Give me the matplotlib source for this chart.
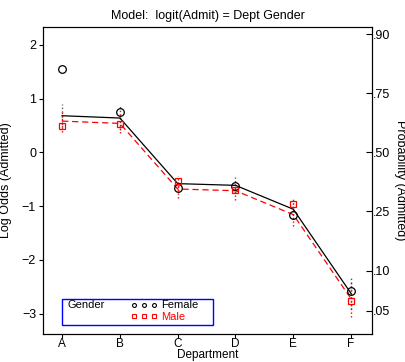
import numpy as np
import matplotlib.pyplot as plt
from matplotlib.patches import Rectangle

plt.rcParams['font.family'] = ['Liberation Sans', 'DejaVu Sans']

depts = ['A', 'B', 'C', 'D', 'E', 'F']
# observed log odds
obs_female = [1.544, 0.754, -0.660, -0.622, -1.157, -2.581]
obs_male = [0.492, 0.534, -0.536, -0.704, -0.957, -2.770]
# fitted log odds, model Dept + Gender
fit_female = [0.682, 0.639, -0.581, -0.613, -1.057, -2.624]
fit_male = [0.582, 0.539, -0.681, -0.713, -1.157, -2.724]
# half-width of the error bars
se_female = [0.21, 0.22, 0.14, 0.15, 0.19, 0.28]
se_male = [0.21, 0.18, 0.17, 0.18, 0.21, 0.33]
prob_ticks = [0.05, 0.10, 0.25, 0.50, 0.75, 0.90]
prob_labels = ['.05', '.10', '.25', '.50', '.75', '.90']
yticks = [-3, -2, -1, 0, 1, 2]

x = np.arange(len(depts))
fs = 9

fig = plt.figure(figsize=(4.06, 3.62), dpi=100)
ax = fig.add_axes([0.106, 0.0785, 0.810, 0.8466])

# error bars
ax.vlines(x, np.array(fit_female) - se_female, np.array(fit_female) + se_female,
          colors='#555555', linestyles=':', linewidth=1.0)
ax.vlines(x, np.array(fit_male) - se_male, np.array(fit_male) + se_male,
          colors='red', linestyles=':', linewidth=1.0)

# fitted lines
ax.plot(x, fit_female, color='black', linewidth=0.9)
ax.plot(x, fit_male, color='red', linewidth=0.9, linestyle=(0, (5, 3)))

# observed points
ax.plot(x, obs_female, linestyle='none', marker='o', markersize=5.5,
        markerfacecolor='none', markeredgecolor='black', markeredgewidth=0.9)
ax.plot(x, obs_male, linestyle='none', marker='s', markersize=3.8,
        markerfacecolor='none', markeredgecolor='red', markeredgewidth=0.9)

ax.set_xlim(-0.33, 5.36)
ax.set_ylim(-3.37, 2.33)
ax.set_xticks(x)
ax.set_xticklabels(depts)
ax.set_yticks(yticks)
ax.tick_params(direction='out', length=3, width=0.8, labelsize=fs, pad=2)
ax.tick_params(axis='x', labelsize=8.5, pad=0.5)
ax.set_xlabel('Department', fontsize=8.5, labelpad=-1)
ax.set_ylabel('Log Odds (Admitted)', fontsize=fs, labelpad=7)
ax.set_title('Model:  logit(Admit) = Dept Gender', fontsize=fs, pad=6)

ax2 = ax.twinx()
ax2.set_ylim(ax.get_ylim())
ax2.set_yticks([np.log(p / (1 - p)) for p in prob_ticks])
ax2.set_yticklabels(prob_labels)
ax2.tick_params(direction='in', length=4, width=0.8, labelsize=fs, pad=1)
ax2.set_ylabel('Probability (Admitted)', fontsize=fs, rotation=270, labelpad=11)

# legend box
lfs = 8
ax.add_patch(Rectangle((0.058, 0.029), 0.459, 0.085, transform=ax.transAxes,
                       fill=False, edgecolor='blue', linewidth=1.0))
ax.text(0.075, 0.094, 'Gender', transform=ax.transAxes, fontsize=lfs,
        va='center', ha='left')
ax.plot([0.278, 0.306, 0.336], [0.094] * 3, transform=ax.transAxes,
        linestyle='none', marker='o', markersize=2.8, markerfacecolor='none',
        markeredgecolor='black', markeredgewidth=0.8)
ax.plot([0.278, 0.306, 0.336], [0.056] * 3, transform=ax.transAxes,
        linestyle='none', marker='s', markersize=2.2, markerfacecolor='none',
        markeredgecolor='red', markeredgewidth=0.8)
ax.text(0.36, 0.094, 'Female', transform=ax.transAxes, fontsize=lfs,
        va='center', ha='left')
ax.text(0.36, 0.055, 'Male', transform=ax.transAxes, fontsize=lfs,
        va='center', ha='left', color='red')

fig.savefig('out.png', dpi=100)
